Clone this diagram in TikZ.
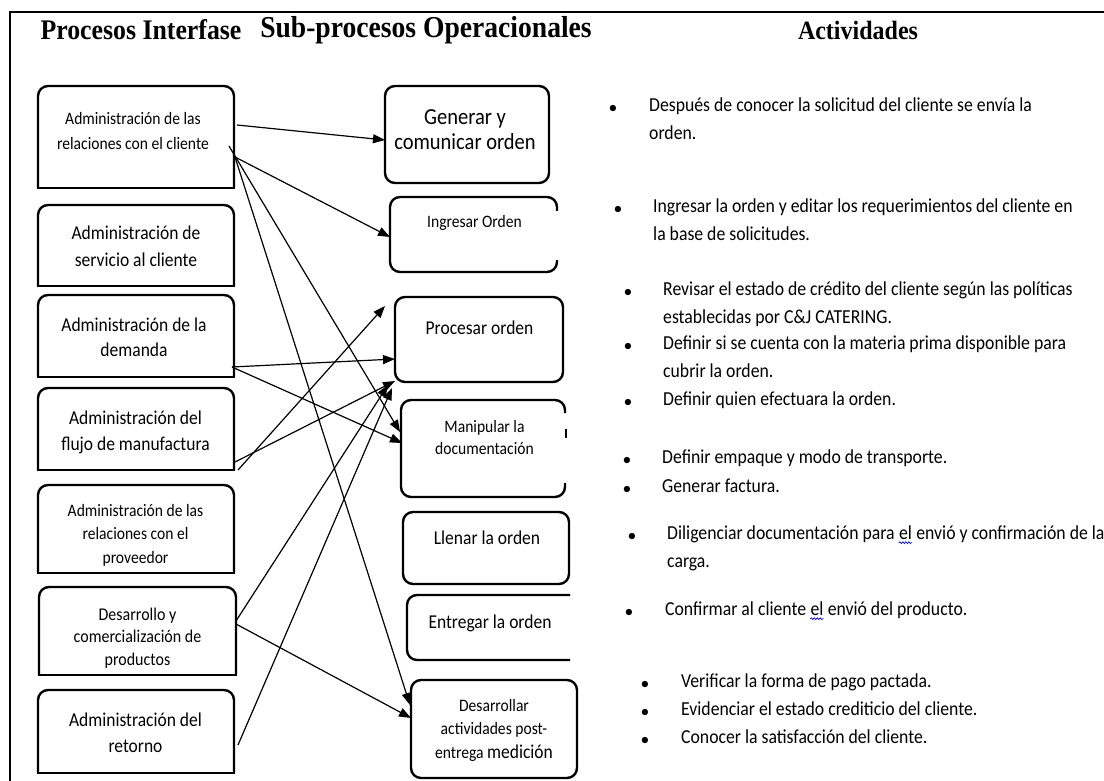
\documentclass[tikz,border=0pt]{standalone}
\usepackage{fontspec}
\setmainfont{Carlito}
\newfontfamily\headfont{Liberation Serif}
\usetikzlibrary{arrows.meta,calc,decorations.pathmorphing}

\newcommand\toproundbox[1]{%
  \draw[boxline, rounded corners=10pt] (#1.south west) -- (#1.north west) -- (#1.north east) -- (#1.south east);
  \draw[boxline, line cap=rect] (#1.south west) -- (#1.south east);}

\begin{document}
\begin{tikzpicture}[x=1pt, y=-1pt,
  boxline/.style={line width=2.4pt, line join=round},
  slot/.style={inner sep=0pt, outer sep=0pt, anchor=north west},
  rbox/.style={slot, draw, boxline, rounded corners=10pt},
  conn/.style={line width=1.2pt, -{Triangle[length=12pt,width=9pt]}},
  lbl/.style={inner sep=0pt, align=center, yscale=1.12},
  fa/.style={font=\fontsize{17.5pt}{26pt}\selectfont},
  fb/.style={font=\fontsize{15.6pt}{22.5pt}\selectfont},
  fg/.style={font=\fontsize{20.5pt}{25pt}\selectfont},
  head/.style={inner sep=0pt, yscale=1.1},
  act/.style={inner sep=0pt, anchor=mid west, yscale=1.12, font=\fontsize{17.7pt}{28pt}\selectfont},
  actw/.style={inner sep=0pt, anchor=base west, yscale=1.12, font=\fontsize{17.7pt}{28pt}\selectfont},
  bul/.style={inner sep=0pt, font=\fontsize{17.7pt}{28pt}\selectfont},
  squig/.style={blue, line width=0.7pt, decorate, decoration={snake, amplitude=0.9pt, segment length=3pt}}
]
\useasboundingbox (0,0) rectangle (1104,781);
\fill[white] (0,0) rectangle (1104,781);

% page frame (top and left rules)
\draw[line width=2pt] (10,781) -- (10,12) -- (1104,12);

% column headings
\node[head, font=\headfont\bfseries\fontsize{25.8pt}{30pt}\selectfont] (h1) at (141,30) {Procesos Interfase};
\node[head, font=\headfont\bfseries\fontsize{27.6pt}{30pt}\selectfont] (h2) at (426,30) {Sub-procesos Operacionales};
\node[head, font=\headfont\bfseries\fontsize{24pt}{30pt}\selectfont] (h3) at (858,30) {Actividades};

% interface processes (left column)
\node[slot, minimum width=196pt, minimum height=102pt] (L1) at (38,86) {};
\node[slot, minimum width=196pt, minimum height=81pt]  (L2) at (38,205) {};
\node[slot, minimum width=196pt, minimum height=82pt]  (L3) at (38,295) {};
\node[slot, minimum width=196pt, minimum height=82pt]  (L4) at (38,388) {};
\node[slot, minimum width=196pt, minimum height=88pt]  (L5) at (38,485) {};
\node[slot, minimum width=197pt, minimum height=88pt]  (L6) at (39,587) {};
\node[slot, minimum width=196pt, minimum height=83pt]  (L7) at (38,690) {};
\foreach \b in {L1,L2,L3,L4,L5,L6,L7} {\toproundbox{\b}}

\node[lbl, fb] (tL1) at (133,131) {Administración de las\\relaciones con el cliente};
\node[lbl, font=\fontsize{17.5pt}{24pt}\selectfont] (tL2) at (136,246.5) {Administración de\\servicio al cliente};
\node[lbl, font=\fontsize{17.5pt}{22.5pt}\selectfont] (tL3) at (134,337.5) {Administración de la\\demanda};
\node[lbl, font=\fontsize{17.5pt}{23pt}\selectfont] (tL4) at (135.5,432) {Administración del\\flujo de manufactura};
\node[lbl, font=\fontsize{15.6pt}{21pt}\selectfont] (tL5) at (135.5,535) {Administración de las\\relaciones con el\\proveedor};
\node[lbl, font=\fontsize{16pt}{20pt}\selectfont] (tL6) at (137.5,638) {Desarrollo y\\comercialización de\\productos};
\node[lbl, font=\fontsize{17.5pt}{23pt}\selectfont] (tL7) at (135.5,733) {Administración del\\retorno};

% operational sub-processes (middle column)
\node[rbox, minimum width=164pt, minimum height=97pt] (R1) at (385,86) {};
\node[slot, minimum width=167pt, minimum height=75pt] (R2) at (390,197) {};
\node[rbox, minimum width=168pt, minimum height=85pt] (R3) at (395,297) {};
\node[slot, minimum width=164pt, minimum height=97pt] (R4) at (401,400) {};
\node[rbox, minimum width=166pt, minimum height=72pt] (R5) at (403,512) {};
\node[slot, minimum width=163pt, minimum height=65pt] (R6) at (407,595) {};
\node[rbox, minimum width=166pt, minimum height=98pt] (R7) at (411,680) {};

% boxes whose right side is cut off
\draw[boxline, rounded corners=10pt] ([shift={(0,14)}]R2.north east) -- (R2.north east) -- (R2.north west)
  -- (R2.south west) -- (R2.south east) -- ([shift={(0,-12)}]R2.south east);
\draw[boxline, rounded corners=10pt] ([shift={(0,13)}]R4.north east) -- (R4.north east) -- (R4.north west)
  -- (R4.south west) -- (R4.south east) -- ([shift={(0,-14)}]R4.south east);
\draw[boxline] ([shift={(1,29)}]R4.north east) -- ([shift={(1,38)}]R4.north east);
\draw[boxline, rounded corners=10pt] (R6.north east) -- (R6.north west) -- (R6.south west) -- (R6.south east);

\node[lbl, font=\fontsize{20.5pt}{22.5pt}\selectfont] (tR1) at (465,129.5) {Generar y\\comunicar orden};
\node[lbl, fb] (tR2) at (474.5,223) {Ingresar Orden};
\node[lbl, fa] (tR3) at (479.5,328) {Procesar orden};
\node[lbl, font=\fontsize{15.6pt}{19pt}\selectfont] (tR4) at (484.5,437.5) {Manipular la\\documentación};
\node[lbl, fa] (tR5) at (487,538) {Llenar la orden};
\node[lbl, fa] (tR6) at (490,623) {Entregar la orden};
\node[lbl, font=\fontsize{15.6pt}{21pt}\selectfont] (tR7) at (494,730) {Desarrollar\\actividades post-\\entrega {\fontsize{17.5pt}{21pt}\selectfont medición}};

% connectors
\draw[conn] ([shift={(3,39)}]L1.north east) -- ([shift={(0,54)}]R1.north west);
\draw[conn] ([shift={(1,71)}]L1.north east) -- ([shift={(0,40)}]R2.north west);
\draw[conn] ([shift={(-5,60)}]L1.north east) -- ([shift={(-1,32)}]R4.north west);
\draw[conn] ([shift={(1,71)}]L1.north east) -- ([shift={(-1,25)}]R7.north west);
\draw[conn] ([shift={(-2,72)}]L3.north east) -- ([shift={(0,62)}]R3.north west);
\draw[conn] ([shift={(-2,72)}]L3.north east) -- ([shift={(1,43)}]R4.north west);
\draw[conn] ([shift={(1,74)}]L4.north east) -- ([shift={(0,84)}]R3.north west);
\draw[conn] ([shift={(4,0)}]L4.south east) -- ([shift={(-10,9)}]R3.north west);
\draw[conn] ([shift={(0,34)}]L6.north east) -- ([shift={(-7,88)}]R3.north west);
\draw[conn] ([shift={(0,37)}]L6.north east) -- ([shift={(0,38)}]R7.north west);
\draw[conn] ([shift={(4,55)}]L7.north east) -- ([shift={(-3,91)}]R3.north west);

% activities (right column)
\node[bul] (b1) at (613,109) {•};
\node[act] (a1) at (649,109) {Después de conocer la solicitud del cliente se envía la};
\node[act] (a1b) at (649,137) {orden.};
\node[bul] (b2) at (618,210) {•};
\node[act] (a2) at (653,210) {Ingresar la orden y editar los requerimientos del cliente en};
\node[act] (a2b) at (653,238) {la base de solicitudes.};
\node[bul] (b3) at (628,293) {•};
\node[act] (a3) at (663,293) {Revisar el estado de crédito del cliente según las políticas};
\node[act] (a3b) at (663,321) {establecidas por C\&J CATERING.};
\node[bul] (b4) at (628,347) {•};
\node[act] (a4) at (663,347) {Definir si se cuenta con la materia prima disponible para};
\node[act] (a4b) at (663,375) {cubrir la orden.};
\node[bul] (b5) at (628,403) {•};
\node[act] (a5) at (663,403) {Definir quien efectuara la orden.};
\node[bul] (b6) at (627,461) {•};
\node[act] (a6) at (662,461) {Definir empaque y modo de transporte.};
\node[bul] (b7) at (627,490) {•};
\node[act] (a7) at (662,490) {Generar factura.};
\node[bul] (b8) at (632,537) {•};
\node[act] (a8) at (667,537) {Diligenciar documentación para};
\node[actw] (a8el) at ([xshift=4pt]a8.base east) {el};
\node[actw] (a8c) at ([xshift=4pt]a8el.base east) {envió y confirmación de la};
\draw[squig] ([yshift=-3pt]a8el.base west) -- ([yshift=-3pt]a8el.base east);
\node[act] (a8b) at (667,565) {carga.};
\node[bul] (b9) at (629,613) {•};
\node[act] (a9) at (665,613) {Confirmar al cliente};
\node[actw] (a9el) at ([xshift=4pt]a9.base east) {el};
\node[actw] (a9c) at ([xshift=4pt]a9el.base east) {envió del producto.};
\draw[squig] ([yshift=-3pt]a9el.base west) -- ([yshift=-3pt]a9el.base east);
\node[bul] (b10) at (645,685) {•};
\node[act] (a10) at (681,685) {Verificar la forma de pago pactada.};
\node[bul] (b11) at (645,713) {•};
\node[act] (a11) at (681,713) {Evidenciar el estado crediticio del cliente.};
\node[bul] (b12) at (645,741) {•};
\node[act] (a12) at (681,741) {Conocer la satisfacción del cliente.};
\end{tikzpicture}
\end{document}
